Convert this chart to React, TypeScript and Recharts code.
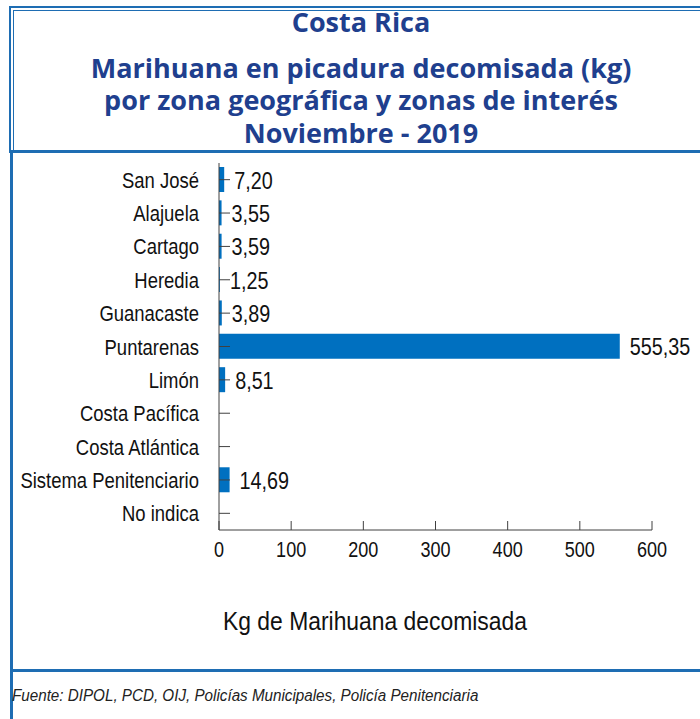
import { BarChart, Bar, XAxis, YAxis, LabelList } from "recharts";

const zonas = [
  "San José",
  "Alajuela",
  "Cartago",
  "Heredia",
  "Guanacaste",
  "Puntarenas",
  "Limón",
  "Costa Pacífica",
  "Costa Atlántica",
  "Sistema Penitenciario",
  "No indica",
];
const kilos: (number | null)[] = [7.2, 3.55, 3.59, 1.25, 3.89, 555.35, 8.51, null, null, 14.69, null];
const xTicks = [0, 100, 200, 300, 400, 500, 600];

const BLUE = "#1E6DB3";
const TITLE = "#203F8E";
const SANS = "'Liberation Sans', Arial, sans-serif";

const data = zonas.map((zona, i) => ({ zona, kg: kilos[i] }));

const fmt = (v: unknown) => (v == null ? "" : Number(v).toFixed(2).replace(".", ","));

// condensed look: squeeze a normal sans horizontally
function Narrow({ x, y, anchor, size, sx, children }: any) {
  return (
    <text
      transform={`translate(${x},${y}) scale(${sx},1)`}
      textAnchor={anchor}
      fontSize={size}
      fill="#111"
      fontFamily={SANS}
    >
      {children}
    </text>
  );
}

function ZonaTick(props: any) {
  const { x, y, payload } = props;
  return (
    <g>
      <line x1={x} y1={y} x2={x + 11} y2={y} stroke="#404040" strokeWidth={1} />
      <Narrow x={x - 20} y={y + 8} anchor="end" size={22} sx={0.84}>
        {payload.value}
      </Narrow>
    </g>
  );
}

function KgTick(props: any) {
  const { x, y, payload } = props;
  return (
    <g>
      <line x1={x} y1={y} x2={x} y2={y - 9} stroke="#404040" strokeWidth={1} />
      <Narrow x={x} y={y + 27} anchor="middle" size={22} sx={0.82}>
        {payload.value}
      </Narrow>
    </g>
  );
}

function ValueLabel(props: any) {
  const { x, y, width, height, value } = props;
  if (value == null) return null;
  return (
    <Narrow x={x + width + 10} y={y + height / 2 + 9} anchor="start" size={23} sx={0.86}>
      {fmt(value)}
    </Narrow>
  );
}

const titleLines = [
  { t: "Costa Rica", y: 22 },
  { t: "Marihuana en picadura decomisada (kg)", y: 68 },
  { t: "por zona geográfica y zonas de interés", y: 100 },
  { t: "Noviembre - 2019", y: 133 },
];

export default function App() {
  return (
    <div style={{ position: "absolute", left: 0, top: 0, width: 700, height: 719, background: "#fff", overflow: "hidden" }}>
      {/* title box */}
      <div style={{ position: "absolute", left: 9, top: 6, width: 700, height: 144, borderTop: `2px solid ${BLUE}`, borderLeft: `2px solid ${BLUE}` }} />
      <div style={{ position: "absolute", left: 13, top: 10, width: 700, height: 140, borderTop: `1px solid ${BLUE}`, borderLeft: `1px solid ${BLUE}` }} />
      <div style={{ position: "absolute", left: 9, top: 150, width: 700, height: 3, background: BLUE }} />
      <div style={{ position: "absolute", left: 10, top: 150, width: 3, height: 569, background: BLUE }} />
      <div style={{ position: "absolute", left: 10, top: 669, width: 700, height: 3, background: BLUE }} />

      {titleLines.map((l) => (
        <div
          key={l.t}
          style={{
            position: "absolute",
            left: 0,
            width: 722,
            top: l.y - 15,
            height: 30,
            lineHeight: "30px",
            textAlign: "center",
            color: TITLE,
            fontFamily: "'Open Sans', sans-serif",
            fontWeight: 700,
            fontSize: 27,
            whiteSpace: "nowrap",
          }}
        >
          {l.t}
        </div>
      ))}

      <div style={{ position: "absolute", left: 0, top: 0 }}>
        <BarChart
          width={700}
          height={570}
          data={data}
          layout="vertical"
          margin={{ top: 163, right: 48, bottom: 0, left: 0 }}
          barSize={25}
        >
          <XAxis
            type="number"
            domain={[0, 600]}
            ticks={xTicks}
            height={40}
            tickSize={0}
            tickMargin={0}
            tick={<KgTick />}
            axisLine={{ stroke: "#404040" }}
            tickLine={false}
          />
          <YAxis
            type="category"
            dataKey="zona"
            width={219}
            tickSize={0}
            tickMargin={0}
            tick={<ZonaTick />}
            axisLine={{ stroke: "#404040" }}
            tickLine={false}
            interval={0}
          />
          <Bar dataKey="kg" fill="#0070C0" isAnimationActive={false}>
            <LabelList dataKey="kg" content={<ValueLabel />} />
          </Bar>
        </BarChart>
      </div>

      <div
        style={{
          position: "absolute",
          left: 0,
          width: 750,
          top: 606,
          textAlign: "center",
          fontFamily: SANS,
          fontSize: 26,
          color: "#111",
          transform: "scaleX(0.88)",
        }}
      >
        Kg de Marihuana decomisada
      </div>
      <div
        style={{
          position: "absolute",
          left: 12,
          top: 687,
          fontFamily: SANS,
          fontStyle: "italic",
          fontSize: 16,
          color: "#222",
          transform: "scaleX(0.95)",
          transformOrigin: "left center",
          whiteSpace: "nowrap",
        }}
      >
        Fuente: DIPOL, PCD, OIJ, Policías Municipales, Policía Penitenciaria
      </div>
    </div>
  );
}
